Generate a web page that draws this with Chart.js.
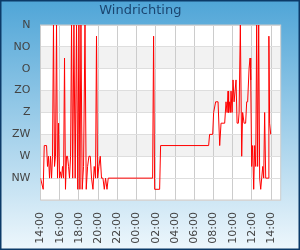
<!DOCTYPE html>
<html><head><meta charset="utf-8">
<script src="https://cdn.jsdelivr.net/npm/chart.js@4/dist/chart.umd.min.js"></script>
<style>html,body{margin:0;padding:0;background:#fff}canvas{display:block}</style>
</head><body><canvas id="c" width="300" height="250"></canvas>
<script>
const directionLabels = ['N','NO','O','ZO','Z','ZW','W','NW'];
const timeTicks = [0,2,4,6,8,10,12,14,16,18,20,22,24];
const timeLabels = ['14:00','16:00','18:00','20:00','22:00','00:00','02:00','04:00','06:00','08:00','10:00','12:00','14:00'];
// hours since 14:00
const hours = [0.00,0.28,0.39,0.63,0.73,0.83,0.94,1.04,1.15,1.25,1.35,1.46,1.56,1.67,1.77,1.88,1.98,2.08,2.19,2.29,2.40,2.50,2.60,2.71,2.81,2.92,3.02,3.13,3.23,3.35,3.48,3.61,3.75,3.88,4.00,4.10,4.21,4.34,4.48,4.63,4.76,4.90,5.04,5.18,5.31,5.46,5.59,5.73,5.83,5.94,6.08,6.22,6.35,6.50,6.64,6.77,6.92,7.05,11.67,11.77,11.88,12.40,12.50,17.50,17.60,17.92,18.02,18.23,18.48,18.65,18.79,19.17,19.31,19.42,19.52,19.58,19.69,19.76,19.83,19.94,20.04,20.15,20.25,20.35,20.46,20.59,20.67,20.80,20.94,21.04,21.19,21.35,21.46,21.56,21.71,21.81,21.88,21.98,22.08,22.19,22.29,22.40,22.50,22.60,22.71,22.81,22.92,23.02,23.13,23.23,23.33,23.44,23.69,23.77,23.85,23.96];
// wind direction in degrees (0 = N)
const degrees = [315,338,248,248,291,270,315,270,315,270,0,291,270,0,315,202,315,302,315,291,315,68,338,270,270,291,315,270,0,315,0,315,0,338,0,338,0,338,291,0,338,291,270,270,315,338,291,315,23,315,291,270,315,315,338,315,338,315,315,23,338,338,248,248,225,225,180,158,158,248,202,202,158,180,136,180,158,180,136,180,113,158,136,113,202,202,180,0,270,180,202,202,158,158,89,68,113,291,248,338,248,291,0,291,0,315,338,315,291,315,180,315,315,23,202,225];

const bgPlugin = {
  id: 'bg',
  beforeDraw(chart) {
    const {ctx, width, height, chartArea: a, scales} = chart;
    const y = scales.y;
    ctx.save();
    const g = ctx.createLinearGradient(0, 0, 0, height);
    g.addColorStop(0, '#4fa5d7');
    g.addColorStop(1, '#eef7fc');
    ctx.fillStyle = g;
    ctx.fillRect(0, 0, width, height);
    ctx.fillStyle = '#ffffff';
    ctx.fillRect(a.left, a.top, a.right - a.left, a.bottom - a.top);
    ctx.fillStyle = '#f2f2f2';
    for (let i = 1; i < directionLabels.length - 1; i += 2) {
      const y0 = y.getPixelForValue(i * 45), y1 = y.getPixelForValue((i + 1) * 45);
      ctx.fillRect(a.left, y0, a.right - a.left, y1 - y0);
    }
    ctx.restore();
  },
  beforeDatasetsDraw(chart) {
    const {ctx, chartArea: a} = chart;
    ctx.save();
    ctx.strokeStyle = '#cccccc';
    ctx.lineWidth = 1;
    ctx.strokeRect(a.left, a.top, a.right - a.left, a.bottom - a.top);
    ctx.restore();
  },
  afterDraw(chart) {
    const {ctx, width, height} = chart;
    ctx.save();
    ctx.strokeStyle = '#0c3a68';
    ctx.lineWidth = 1.5;
    ctx.strokeRect(0.75, 0.75, width - 1.5, height - 1.5);
    ctx.restore();
  }
};

const font = {family: 'DejaVu Sans', size: 11};

new Chart(document.getElementById('c'), {
  type: 'line',
  data: {
    datasets: [{
      data: hours.map((h, i) => ({x: h, y: degrees[i]})),
      borderColor: '#ff0000',
      borderWidth: 1,
      pointRadius: 0,
      tension: 0,
      fill: false
    }]
  },
  options: {
    responsive: false,
    animation: false,
    devicePixelRatio: 1,
    layout: {padding: {left: 0, right: 19.3, top: 0, bottom: 0}},
    plugins: {
      legend: {display: false},
      tooltip: {enabled: false},
      title: {
        display: true,
        text: 'Windrichting',
        color: '#1b4570',
        font: {family: 'DejaVu Sans', size: 13, weight: 'normal'},
        padding: {top: 3, bottom: 6.4}
      }
    },
    scales: {
      x: {
        type: 'linear',
        min: 0,
        max: 25,
        afterBuildTicks: s => { s.ticks = timeTicks.map(v => ({value: v})); },
        afterFit: s => { s.height = 50; },
        ticks: {
          callback: v => timeLabels[timeTicks.indexOf(v)],
          autoSkip: false,
          minRotation: 90,
          maxRotation: 90,
          padding: 12,
          color: '#444',
          font
        },
        grid: {color: '#cccccc', drawTicks: false},
        border: {display: false}
      },
      y: {
        type: 'linear',
        reverse: true,
        min: 0,
        max: 360,
        afterFit: s => { s.width = 40.5; },
        ticks: {
          stepSize: 45,
          callback: v => directionLabels[v / 45] ?? '',
          padding: 10,
          color: '#444',
          font
        },
        grid: {color: '#dedede', drawTicks: false},
        border: {display: false}
      }
    }
  },
  plugins: [bgPlugin]
});
</script>
</body></html>
